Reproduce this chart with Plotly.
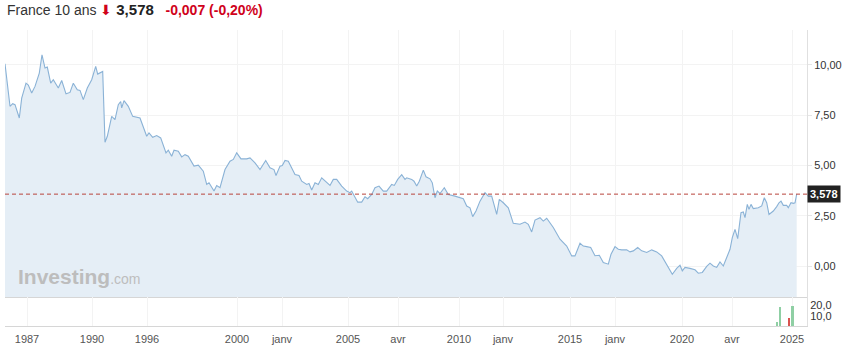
import plotly.graph_objects as go

# Position along the (non-linear) trading-period axis and 10y yield values
t = [5, 6.7, 10, 12.7, 15, 19.3, 21.7, 26, 28.3, 31.7, 35, 39.3, 42, 45, 47.3, 50.7, 53.3, 58.3, 61.7, 66, 70, 73.3,
     77.3, 80, 83.3, 87.3, 91.7, 95.7, 97.7, 102.7, 105, 107.3, 111.7, 115, 118.3, 120.7, 121.7, 124, 128.3, 132.7,
     136.7, 140, 146.7, 149, 152.7, 156.7, 160.7, 166, 168.3, 171.7, 174, 178.3, 181.7, 185, 188.3, 194, 198.3,
     203.3, 206.7, 209, 214, 216.7, 220, 225, 230, 233.3, 236.7, 241, 246.7, 250, 255, 260, 265.7, 270, 274, 276,
     280, 282.3, 285, 288.3, 295, 299, 301.7, 306.7, 309, 311.7, 315, 318.3, 321.7, 325.7, 330, 333.3, 336.7, 341.7,
     346.7, 350, 351.7, 357.7, 361.7, 365, 367.7, 371.7, 375, 379, 383.3, 386.7, 391.7, 394.3, 397.7, 401.7, 405,
     406.7, 409.3, 411.7, 414, 416.7, 419.3, 423.3, 426, 430, 432.3, 435, 437.3, 440, 444.3, 448.3, 455, 460, 463.3,
     466.7, 470, 472.7, 476, 480, 485, 488.3, 491.7, 496.7, 499.3, 503.3, 508.3, 513.3, 520, 525, 528.3, 531.7, 535,
     540, 543.3, 546.7, 553.3, 560, 566.7, 571.7, 575, 580, 583.3, 586.7, 590.7, 595, 599.3,
     603.3, 608.3, 611, 615, 618.3, 621.7, 626.7, 630, 633.3, 637.7, 641.7, 646.7, 651.7, 656.7, 661.7, 666.7, 672.3,
     676.7, 680, 682.3, 685, 690, 695, 698.3, 702.3, 706.7, 710, 713.3, 716.7, 720, 723.3, 726.7, 730, 732.3, 735,
     737.7, 741, 743.3, 745, 747.3, 749, 751, 753.3, 758.3, 761.7, 764.3, 766.7, 769, 773.3, 776.7, 779, 781, 783.3,
     786.7, 788.3, 791, 793.3, 795, 796.7]
yld = [10.05, 9.42, 7.94, 8.07, 8.02, 7.36, 8.35, 9.09, 9.0, 8.6, 8.93, 9.59, 10.5, 9.84, 9.89, 9.09, 9.26, 8.85, 9.22,
       8.56, 8.63, 9.09, 8.76, 8.73, 8.27, 8.85, 9.26, 9.92, 9.54, 9.67, 6.15, 6.45, 7.44, 7.28, 8.02, 8.18, 7.86, 8.22,
       7.94, 7.44, 7.41, 7.36, 6.45, 6.62, 6.4, 6.49, 6.37, 5.63, 5.76, 5.46, 5.76, 5.71, 5.43, 5.54, 5.46, 4.97, 5.02,
       4.72, 4.06, 4.14, 3.73, 4.01, 3.9, 4.8, 5.21, 5.3, 5.63, 5.33, 5.33, 5.38, 5.13, 4.8, 5.25, 4.89, 4.8, 4.5,
       4.97, 5.0, 5.25, 5.21, 4.55, 4.5, 4.22, 4.06, 4.11, 3.78, 4.14, 4.06, 4.39, 4.22, 4.01, 4.31, 4.31, 3.98,
       3.73, 3.65, 3.73, 3.18, 3.18, 3.45, 3.35, 3.56, 3.9, 3.98, 3.73, 3.73, 4.06, 4.01, 4.31, 4.55, 4.31,
       4.39, 4.34, 4.31, 4.22, 3.98, 4.22, 4.77, 4.44, 4.34, 4.14, 3.4, 3.73, 3.61, 3.9, 3.56, 3.48, 3.4, 3.35,
       2.99, 2.9, 2.46, 2.74, 3.23, 3.65, 3.48, 3.48, 2.57, 3.32, 3.15, 2.9, 2.13, 2.08, 2.19, 2.08, 1.7, 2.29,
       2.41, 2.24, 2.38, 1.92, 1.34, 1.0, 0.51, 0.51, 1.14, 1.0, 0.97, 0.93, 0.52, 0.54,
       0.18, 0.1, 0.59, 0.97, 0.84, 0.81, 0.81, 0.71, 0.76, 0.93, 0.76, 0.68, 0.81, 0.71, 0.51, 0.1, -0.4,
       -0.11, 0.05, -0.23, -0.06, -0.11, -0.18, -0.35, -0.31, -0.01, 0.15, 0.01, -0.06, 0.21, 0.01, 0.43, 0.84, 1.42, 1.83,
       1.37, 2.66, 2.69, 2.41, 3.07, 2.82, 3.07, 2.86, 2.9, 2.99, 3.4, 3.15, 2.57, 2.74, 2.96, 3.15, 3.23, 3.02,
       3.02, 2.9, 3.15, 3.12, 3.15, 3.578]

last_value = 3.578
title_name = "France 10 ans"
change_abs = "-0,007"
change_pct = "(-0,20%)"

vol_t = [777, 780, 789, 791.7, 793]
vol_v = [4, 18, 8, 19, 19]
vol_col = ["#8fcfa4", "#8fcfa4", "#d9534f", "#8fcfa4", "#8fcfa4"]

tick_pos = [22, 87, 142, 232, 277, 343, 393, 454, 498, 565, 610, 677, 727, 787]
tick_pos = [p + 5 for p in tick_pos]
tick_txt = ["1987", "1990", "1996", "2000", "janv", "2005", "avr", "2010", "janv", "2015", "janv", "2020", "avr", "2025"]

Y_MIN, Y_MAX = -1.53, 11.73
X_RANGE = [5, 807]

fig = go.Figure()
fig.add_trace(go.Scatter(x=t, y=[Y_MIN] * len(t), mode="lines", line=dict(width=0),
                         hoverinfo="skip", showlegend=False, xaxis="x", yaxis="y"))
fig.add_trace(go.Scatter(x=t, y=yld, mode="lines", fill="tonexty", fillcolor="#e5eef6",
                         line=dict(color="#8ab2d6", width=1.1), showlegend=False, xaxis="x", yaxis="y"))
fig.add_trace(go.Bar(x=vol_t, y=vol_v, marker=dict(color=vol_col, line=dict(width=0)), width=0.7,
                     showlegend=False, xaxis="x2", yaxis="y2"))

grid = "#f3f3f3"
fig.update_layout(
    width=850, height=353,
    margin=dict(l=5, r=43, t=30, b=27),
    paper_bgcolor="white", plot_bgcolor="white",
    separators=", ",
    font=dict(family="Liberation Sans, Arial, sans-serif", size=11, color="#333"),
    xaxis=dict(domain=[0, 1], range=X_RANGE, anchor="y", tickvals=tick_pos, showticklabels=False,
               showgrid=True, gridcolor=grid, zeroline=False, showline=True, linecolor="#d6d6d6", linewidth=1),
    yaxis=dict(domain=[0.098, 1], range=[Y_MIN, Y_MAX], side="right", anchor="x",
               tickvals=[0, 2.5, 5, 7.5, 10], tickformat=".2f", showgrid=True, gridcolor=grid,
               zeroline=False, showline=True, linecolor="#e0e0e0", ticks="outside", ticklen=4,
               tickcolor="#e6e6e6", tickfont=dict(size=11, color="#333")),
    xaxis2=dict(domain=[0, 1], range=X_RANGE, anchor="y2", tickvals=tick_pos, ticktext=tick_txt,
                showgrid=True, gridcolor=grid, zeroline=False, showline=True, linecolor="#d6d6d6",
                ticks="outside", ticklen=3, tickcolor="rgba(0,0,0,0)",
                tickfont=dict(size=11, color="#555")),
    yaxis2=dict(domain=[0, 0.098], range=[0, 28], side="right", anchor="x2",
                tickvals=[10, 20], tickformat=".1f", showgrid=False, zeroline=False,
                showline=True, linecolor="#e0e0e0", ticks="", tickfont=dict(size=11, color="#333")),
    bargap=0,
)

fig.add_shape(type="line", xref="x", yref="y", x0=X_RANGE[0], x1=X_RANGE[1], y0=last_value, y1=last_value,
              line=dict(color="#b8443c", width=1, dash="4px,3px"))

fig.add_annotation(xref="paper", yref="y", x=1, y=last_value, xanchor="left", yanchor="middle",
                   text="<b>3,578</b>", showarrow=False, bgcolor="#222", borderpad=2,
                   font=dict(color="white", size=11))

fig.add_annotation(xref="paper", yref="paper", x=0.0, y=1.0676, xanchor="left", yanchor="middle",
                   showarrow=False,
                   text=(f"<span style='color:#333'>{title_name}</span> "
                         f"<span style='color:#d0021b'>⬇</span> "
                         f"<b><span style='color:#222;font-size:15px'>{str(last_value).replace('.', ',')}</span></b>   "
                         f"<b><span style='color:#d0021b'>{change_abs} {change_pct}</span></b>"),
                   font=dict(family="Liberation Sans, Arial, sans-serif", size=14, color="#333"))

fig.add_annotation(xref="paper", yref="paper", x=0.014, y=0.166, xanchor="left", yanchor="middle",
                   showarrow=False,
                   text="<b>Investing</b><span style='font-size:14px'>.com</span>",
                   font=dict(family="Liberation Sans, Arial, sans-serif", size=21, color="#bdbdbd"))

fig.write_html("out.html")
